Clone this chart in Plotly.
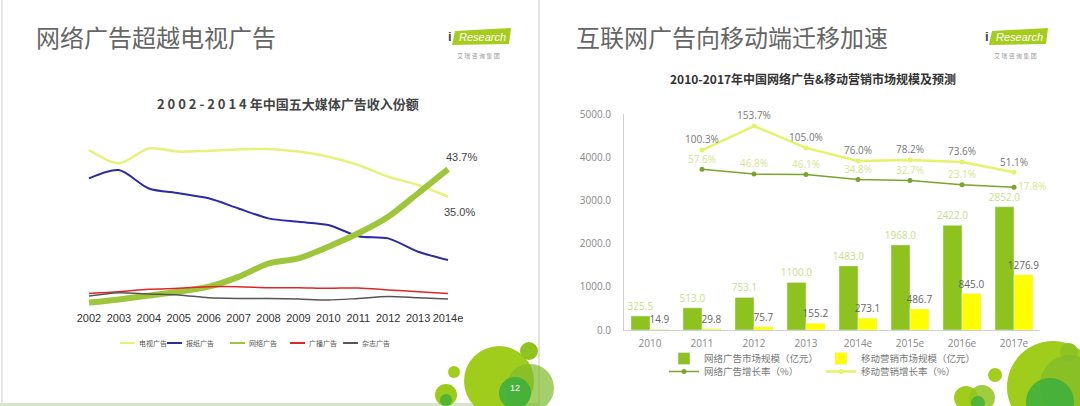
import plotly.graph_objects as go

W, H = 1080, 406

# ------------------------------------------------------------
# DATA
# ------------------------------------------------------------

# left slide: share of ad revenue (%) for five media, 2002-2014e
years = ["2002", "2003", "2004", "2005", "2006", "2007", "2008",
         "2009", "2010", "2011", "2012", "2013", "2014e"]
tv = [49.7, 45.5, 50.2, 49.2, 49.5, 49.9, 50.0, 49.2, 47.6, 45.0, 41.3, 38.7, 35.0]
newspaper = [40.8, 43.4, 37.6, 36.1, 34.5, 31.3, 28.2, 27.1, 26.1, 22.6, 21.9, 17.7, 15.1]
internet = [1.7, 2.7, 3.9, 5.1, 6.7, 9.8, 14.0, 15.6, 19.3, 23.5, 28.7, 36.1, 43.7]
radio = [4.6, 5.1, 5.9, 6.2, 6.7, 6.7, 6.4, 6.4, 6.2, 6.3, 5.7, 5.1, 4.6]
magazine = [3.8, 4.8, 4.4, 4.1, 3.2, 3.0, 3.0, 2.8, 2.5, 3.0, 3.6, 3.2, 2.8]

# right slide: market size (100M RMB) and growth rate (%)
years2 = ["2010", "2011", "2012", "2013", "2014e", "2015e", "2016e", "2017e"]
net_size = [325.5, 513.0, 753.1, 1100.0, 1483.0, 1968.0, 2422.0, 2852.0]
mobile_size = [14.9, 29.8, 75.7, 155.2, 273.1, 486.7, 845.0, 1276.9]
net_growth = [57.6, 46.8, 46.1, 34.8, 32.7, 23.1, 17.8]        # 2011-2017e
mobile_growth = [100.3, 153.7, 105.0, 76.0, 78.2, 73.6, 51.1]  # 2011-2017e

CJK = "Noto Sans CJK SC"


def px_x(x):
    return x / W


def px_y(y):
    return 1 - y / H


def label(x, y, text, size, color, family=CJK, xanchor="center", **kw):
    # paper-positioned text, x/y given in pixels from the top-left corner
    return dict(x=px_x(x), y=px_y(y), xref="paper", yref="paper",
                xanchor=xanchor, yanchor="middle", text=text, showarrow=False,
                font=dict(family=family, size=size, color=color), **kw)


fig = go.Figure()

# ------------------------------------------------------------
# LEFT CHART
# ------------------------------------------------------------

left_series = [
    ("电视广告", tv, "#e6f27a", 2.5),
    ("报纸广告", newspaper, "#2b2ba6", 2),
    ("网络广告", internet, "#9fc63b", 6),
    ("广播广告", radio, "#e02626", 1.5),
    ("杂志广告", magazine, "#555555", 1.5),
]
for name, vals, color, width in left_series:
    fig.add_trace(go.Scatter(
        x=years, y=vals, name=name, mode="lines", showlegend=False,
        line=dict(color=color, width=width, shape="spline", smoothing=0.8),
        xaxis="x", yaxis="y",
    ))

# ------------------------------------------------------------
# RIGHT CHART
# ------------------------------------------------------------

fig.add_trace(go.Bar(
    x=years2, y=net_size, name="网络广告市场规模（亿元）",
    marker_color="#8dc21f", xaxis="x2", yaxis="y2", legend="legend2",
    text=[f"{v:.1f}" for v in net_size], textposition="outside",
    textfont=dict(family="Open Sans", size=10, color="#c9dc8c"),
    cliponaxis=False, constraintext="none",
))
fig.add_trace(go.Bar(
    x=years2, y=mobile_size, name="移动营销市场规模（亿元）",
    marker_color="#ffff00", xaxis="x2", yaxis="y2", legend="legend2",
    text=[f"{v:.1f}" for v in mobile_size], textposition="outside",
    textfont=dict(family="Open Sans", size=10, color="#666"),
    cliponaxis=False, constraintext="none",
))
fig.add_trace(go.Scatter(
    x=years2[1:], y=net_growth, name="网络广告增长率（%）",
    mode="lines+markers+text", xaxis="x2", yaxis="y3", legend="legend3",
    line=dict(color="#7ba42c", width=1.5), marker=dict(size=5, color="#7ba42c"),
    text=[f"{v:.1f}%" for v in net_growth],
    textposition=["top center"] * (len(net_growth) - 1) + ["middle right"],
    textfont=dict(family="Open Sans", size=10, color="#d6e58f"),
    cliponaxis=False,
))
fig.add_trace(go.Scatter(
    x=years2[1:], y=mobile_growth, name="移动营销增长率（%）",
    mode="lines+markers+text", xaxis="x2", yaxis="y3", legend="legend3",
    line=dict(color="#e4f36a", width=2.5), marker=dict(size=5, color="#e4f36a"),
    text=[f"{v:.1f}%" for v in mobile_growth], textposition="top center",
    textfont=dict(family="Open Sans", size=10, color="#777"),
    cliponaxis=False,
))

# ------------------------------------------------------------
# SLIDE DECORATION
# ------------------------------------------------------------

shapes = [
    dict(type="line", xref="paper", yref="paper", x0=px_x(2), x1=px_x(2),
         y0=0, y1=1, line=dict(color="#e6e6e6", width=2), layer="below"),
    dict(type="line", xref="paper", yref="paper", x0=px_x(539), x1=px_x(539),
         y0=0, y1=1, line=dict(color="#e2e2e2", width=2), layer="below"),
    dict(type="line", xref="paper", yref="paper", x0=0, x1=px_x(539),
         y0=px_y(404.5), y1=px_y(404.5), line=dict(color="#d5e6cc", width=3)),
]


def circle(cx, cy, r, color, opacity=1.0):
    return dict(type="circle", xref="paper", yref="paper",
                x0=px_x(cx - r), x1=px_x(cx + r),
                y0=px_y(cy + r), y1=px_y(cy - r),
                fillcolor=color, opacity=opacity, line_width=0, layer="above")


# left slide bubbles
shapes += [
    circle(446, 395, 11, "#9dcb1b"),
    circle(446, 400, 6, "#3fae3a", 0.8),
    circle(454, 372, 6, "#a3cd1d"),
    circle(499, 381, 35, "#a0cc1c"),
    circle(529, 351, 9, "#8fc31f"),
    circle(530, 388, 24, "#7dbb2a", 0.7),
    circle(515, 393, 16, "#3cae3e", 0.85),
]
# right slide bubbles
shapes += [
    circle(966, 398, 12, "#a0cc1c"),
    circle(982, 398, 13, "#8fc31f", 0.85),
    circle(978, 403, 7, "#3fae3a", 0.8),
    circle(995, 375, 7, "#a3cd1d"),
    circle(1053, 387, 46, "#a0cc1c"),
    circle(1069, 352, 9, "#8fc31f"),
    circle(1070, 385, 30, "#7dbb2a", 0.7),
    circle(1050, 402, 24, "#3cae3e", 0.85),
]

annotations = [
    label(34, 36, "网络广告超越电视广告", 24, "#666", xanchor="left"),
    label(574, 36, "互联网广告向移动端迁移加速", 24, "#666", xanchor="left"),
    label(288, 103, "<b>2 0 0 2 - 2 0 1 4 年中国五大媒体广告收入份额</b>", 13, "#444"),
    label(813, 78, "<b>2010-2017年中国网络广告&移动营销市场规模及预测</b>", 12, "#333"),
    label(515, 388, "12", 9, "white", family="Liberation Sans"),
    # end-of-line values on the left chart
    dict(x=years[-1], y=internet[-1], xref="x", yref="y",
         text=f"{internet[-1]}%", showarrow=False, xshift=13, yshift=12,
         font=dict(family="Liberation Sans", size=11, color="#444")),
    dict(x=years[-1], y=tv[-1], xref="x", yref="y",
         text=f"{tv[-1]:.1f}%", showarrow=False, xshift=11, yshift=-15,
         font=dict(family="Liberation Sans", size=11, color="#444")),
]

# hand-drawn legend of the left chart (small swatch + text)
legend_x = [120, 167, 230, 290, 343]
for (name, _, color, _), x0 in zip(left_series, legend_x):
    shapes.append(dict(type="line", xref="paper", yref="paper",
                       x0=px_x(x0), x1=px_x(x0 + 15), y0=px_y(343), y1=px_y(343),
                       line=dict(color=color, width=2)))
    annotations.append(label(x0 + 17, 343, name, 7, "#555", xanchor="left"))

# iResearch logos
for dx in (0, 537):
    path = (f"M {px_x(455 + dx)},{px_y(31)} L {px_x(511 + dx)},{px_y(28)} "
            f"L {px_x(509 + dx)},{px_y(44)} L {px_x(452 + dx)},{px_y(45)} Z")
    shapes.append(dict(type="path", path=path, xref="paper", yref="paper",
                       fillcolor="#a6cd1e", line_width=0))
    annotations += [
        label(450 + dx, 37, "<b>i</b>", 13, "#444", family="Liberation Sans"),
        label(482 + dx, 37, "<i>Research</i>", 11, "white", family="Liberation Sans"),
        label(478 + dx, 55, "艾 瑞 咨 询 集 团", 6, "#999"),
    ]

# ------------------------------------------------------------
# LAYOUT
# ------------------------------------------------------------

fig.update_layout(
    width=W, height=H,
    margin=dict(l=0, r=0, t=0, b=0, pad=0, autoexpand=False),
    paper_bgcolor="white", plot_bgcolor="rgba(0,0,0,0)",
    barmode="group", bargap=0.27, bargroupgap=0,
    shapes=shapes,
    annotations=annotations,
    xaxis=dict(domain=[px_x(74), px_x(463)], type="category", automargin=False,
               range=[-0.5, len(years) - 0.5],
               showline=False, showgrid=False, zeroline=False, ticks="",
               tickfont=dict(family="Liberation Sans", size=11, color="#333")),
    yaxis=dict(domain=[px_y(310), px_y(130)], range=[-0.63, 56],
               automargin=False, visible=False),
    xaxis2=dict(domain=[px_x(624), px_x(1040)], type="category", automargin=False,
                showline=True, linecolor="#d0d0d0", linewidth=1,
                showgrid=False, zeroline=False, ticks="", anchor="y2",
                ticklabelstandoff=4,
                tickfont=dict(family="Open Sans", size=10, color="#888")),
    yaxis2=dict(domain=[px_y(330), px_y(114)], range=[0, 5000], automargin=False,
                anchor="x2", showline=True, linecolor="#d0d0d0", linewidth=1,
                showgrid=False, zeroline=False, ticks="", tickformat=".1f",
                dtick=1000, ticklabelstandoff=10,
                tickfont=dict(family="Open Sans", size=10, color="#888")),
    yaxis3=dict(domain=[px_y(330), px_y(114)], range=[-299.6, 180.4],
                automargin=False,
                overlaying="y2", anchor="x2", side="right", visible=False),
    legend2=dict(orientation="h", x=px_x(664), y=px_y(344),
                 xanchor="left", yanchor="top", itemwidth=30,
                 entrywidth=112, entrywidthmode="pixels",
                 bgcolor="rgba(0,0,0,0)",
                 font=dict(family=CJK, size=9.5, color="#777")),
    legend3=dict(orientation="h", x=px_x(664), y=px_y(357),
                 xanchor="left", yanchor="top", itemwidth=30,
                 entrywidth=112, entrywidthmode="pixels",
                 bgcolor="rgba(0,0,0,0)",
                 font=dict(family=CJK, size=9.5, color="#777")),
    showlegend=True,
)

fig.write_html("out.html", config={"displayModeBar": False},
               post_script="document.body.style.margin = '0';")
